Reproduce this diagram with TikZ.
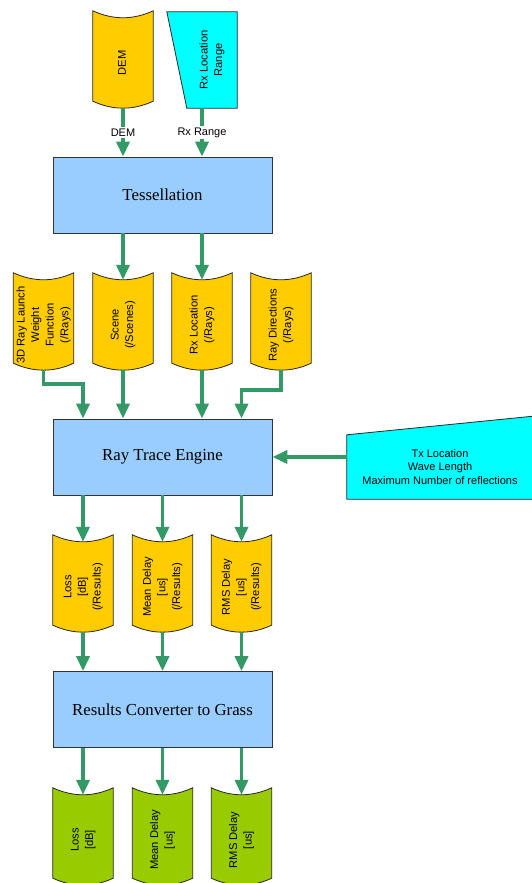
\documentclass[tikz,border=0pt]{standalone}
\usepackage{fontspec}
\usepackage{graphicx}
\setmainfont{Liberation Serif}
\newfontfamily\arialfont{Liberation Sans}
\usetikzlibrary{arrows.meta,backgrounds,calc}
\definecolor{datayellow}{HTML}{FFCC00}
\definecolor{datagreen}{HTML}{99CC00}
\definecolor{inputcyan}{HTML}{00FFFF}
\definecolor{procblue}{HTML}{99CCFF}
\definecolor{flowgreen}{HTML}{339966}
\newcommand{\vtext}[1]{\rotatebox{90}{\begin{tabular}{@{}c@{}}#1\end{tabular}}}
\tikzset{
  proc/.style={draw=black!80, line width=0.8pt, fill=procblue, minimum width=219pt, minimum height=76pt, inner sep=0pt, font=\fontsize{16.8}{19}\selectfont},
  store/.style={minimum width=60pt, minimum height=90pt, inner sep=0pt, font=\arialfont\fontsize{11.2}{14.6}\selectfont},
  manual/.style={inner sep=0pt, align=center, font=\arialfont\fontsize{11}{13.5}\selectfont},
  flow/.style={draw=flowgreen, line width=3.5pt, -{Triangle[length=15pt,width=13pt]}},
  flowlabel/.style={fill=white, inner sep=1.5pt, font=\arialfont\fontsize{11}{13}\selectfont},
  outline/.style={draw=black!85, line width=0.8pt}
}
\begin{document}
\begin{tikzpicture}[x=1pt,y=1pt]
	\useasboundingbox (0,0) rectangle (532,883);
	\node[store] (dem) at (123,820) {\vtext{DEM}};
	\node[store, minimum width=70pt, minimum height=96pt] (rxrange) at (202,823) {\hspace*{20pt}\vtext{Rx Location\\Range}};
	\node[proc] (tess) at (162.5,688) {Tessellation};
	\node[store] (weight) at (43.5,558) {\vtext{3D Ray Launch\\Weight\\Function\\(/Rays)}};
	\node[store] (scene) at (123,558) {\vtext{Scene\\(/Scenes)}};
	\node[store] (rxloc) at (202,558) {\vtext{Rx Location\\(/Rays)}};
	\node[store] (raydir) at (281,558) {\vtext{Ray Directions\\(/Rays)}};
	\node[proc] (rte) at (162.5,426) {Ray Trace Engine};
	\node[manual, minimum width=186pt, minimum height=64pt] (tx) at (440,416) {Tx Location\\Wave Length\\Maximum Number of reflections};
	\node[store] (loss) at (83,296) {\vtext{Loss\\{[dB]}\\(/Results)}};
	\node[store] (mean) at (162.5,296) {\vtext{Mean Delay\\{[us]}\\(/Results)}};
	\node[store] (rms) at (241.5,296) {\vtext{RMS Delay\\{[us]}\\(/Results)}};
	\node[proc] (conv) at (162.5,173.5) {Results Converter to Grass};
	\node[store] (gloss) at (83,43) {\vtext{Loss\\{[dB]}}};
	\node[store] (gmean) at (162.5,43) {\vtext{Mean Delay\\{[us]}}};
	\node[store] (grms) at (241.5,43) {\vtext{RMS Delay\\{[us]}}};
	\begin{scope}[on background layer]
		\foreach \n/\c in {dem/datayellow, weight/datayellow, scene/datayellow, rxloc/datayellow, raydir/datayellow, loss/datayellow, mean/datayellow, rms/datayellow, gloss/datagreen, gmean/datagreen, grms/datagreen}
			\path[outline, fill=\c] ([yshift=7pt]\n.north west) .. controls ([shift={(-10pt,-2.3pt)}]\n.north) and ([shift={(10pt,-2.3pt)}]\n.north) .. ([yshift=7pt]\n.north east)
				-- ([yshift=7pt]\n.south east) .. controls ([shift={(10pt,-2.3pt)}]\n.south) and ([shift={(-10pt,-2.3pt)}]\n.south) .. ([yshift=7pt]\n.south west) -- cycle;
		\path[outline, fill=inputcyan] (rxrange.north west) -- (rxrange.north east) -- (rxrange.south east) -- ([xshift=20pt]rxrange.south west) -- cycle;
		\path[outline, fill=inputcyan] (tx.north west) -- ([shift={(4pt,19pt)}]tx.north east) -- ([xshift=4pt]tx.south east) -- (tx.south west) -- cycle;
	\end{scope}
	\draw[flow] (dem.south) -- node[flowlabel] (demlabel) {DEM} (dem.south |- tess.north);
	\draw[flow] (rxrange.south) -- node[flowlabel] (rangelabel) {Rx Range} (rxrange.south |- tess.north);
	\draw[flow] (tess.south -| scene) -- (scene.north);
	\draw[flow] (tess.south -| rxloc) -- (rxloc.north);
	\draw[flow] (weight.south) -- ++(0,-14) -| (rte.north -| loss);
	\draw[flow] (scene.south) -- (scene.south |- rte.north);
	\draw[flow] (rxloc.south) -- (rxloc.south |- rte.north);
	\draw[flow] (raydir.south) -- ++(0,-20) -| (rte.north -| rms);
	\draw[flow] (tx.west |- rte.east) -- (rte.east);
	\draw[flow] (rte.south -| loss) -- (loss.north);
	\draw[flow] (rte.south -| mean) -- (mean.north);
	\draw[flow] (rte.south -| rms) -- (rms.north);
	\draw[flow] (loss.south) -- (loss.south |- conv.north);
	\draw[flow] (mean.south) -- (mean.south |- conv.north);
	\draw[flow] (rms.south) -- (rms.south |- conv.north);
	\draw[flow] (conv.south -| gloss) -- (gloss.north);
	\draw[flow] (conv.south -| gmean) -- (gmean.north);
	\draw[flow] (conv.south -| grms) -- (grms.north);
\end{tikzpicture}
\end{document}
